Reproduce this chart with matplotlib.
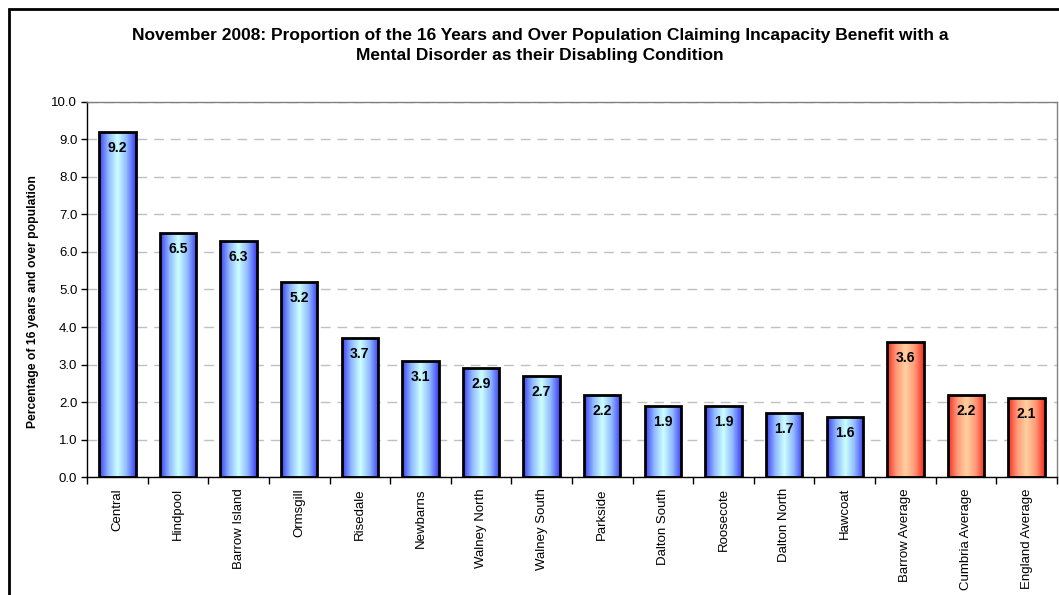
import numpy as np
import matplotlib.pyplot as plt
from matplotlib.colors import LinearSegmentedColormap
from matplotlib.patches import Rectangle

plt.rcParams['font.family'] = ['Liberation Sans', 'DejaVu Sans']

wards = ['Central', 'Hindpool', 'Barrow Island', 'Ormsgill', 'Risedale', 'Newbarns',
         'Walney North', 'Walney South', 'Parkside', 'Dalton South', 'Roosecote',
         'Dalton North', 'Hawcoat', 'Barrow Average', 'Cumbria Average', 'England Average']
rates = [9.2, 6.5, 6.3, 5.2, 3.7, 3.1, 2.9, 2.7, 2.2, 1.9, 1.9, 1.7, 1.6, 3.6, 2.2, 2.1]
is_average = [False] * 13 + [True] * 3

blue_grad = LinearSegmentedColormap.from_list('bl', ['#3c3cf5', '#8fb8ff', '#ccffff', '#8fb8ff', '#3c3cf5'])
red_grad = LinearSegmentedColormap.from_list('rd', ['#f52a1e', '#ff9a78', '#ffd0a0', '#ff9a78', '#f52a1e'])

fig = plt.figure(figsize=(10.59, 5.95), dpi=100)
ax = fig.add_axes([0.0822, 0.1983, 0.9158, 0.6303])

# outer chart frame
fig.patches.append(Rectangle((9 / 1059, -0.1), 1.2, 1.1 - 9 / 595, transform=fig.transFigure,
                             fill=False, edgecolor='black', linewidth=2, zorder=0))

x = np.arange(len(wards))
width = 0.6
bars = ax.bar(x, rates, width=width, color='none', edgecolor='black', linewidth=2, zorder=3)

grad = np.linspace(0, 1, 256).reshape(1, -1)
for bar, val, avg in zip(bars, rates, is_average):
    x0 = bar.get_x()
    im = ax.imshow(grad, cmap=red_grad if avg else blue_grad, aspect='auto',
                   extent=[x0, x0 + width, 0, val], zorder=2, interpolation='bilinear')
    im.set_clip_path(bar)
    ax.text(x0 + width / 2, val - 0.24, f'{val:.1f}', ha='center', va='top',
            fontsize=10, fontweight='bold', zorder=4)

ax.set_xlim(-0.5, len(wards) - 0.5)
ax.set_ylim(0, 10)
ax.set_yticks(np.arange(0, 10.01, 1.0))
ax.set_yticklabels([f'{v:.1f}' for v in np.arange(0, 10.01, 1.0)], fontsize=9.5)
ax.set_xticks(x)
ax.set_xticklabels(wards, rotation=90, fontsize=9.5)
ax.set_xticks(np.arange(-0.5, len(wards), 1.0), minor=True)
ax.tick_params(axis='x', which='major', length=0, pad=8)
ax.tick_params(axis='x', which='minor', length=5, direction='out', width=1)
ax.tick_params(axis='y', length=4, direction='out', width=1, pad=3)

ax.yaxis.grid(True, linestyle=(0, (7, 5)), color='#c0c0c0', linewidth=1, zorder=0)
ax.set_axisbelow(True)
for side in ('top', 'right'):
    ax.spines[side].set_color('#808080')
    ax.spines[side].set_linewidth(1)
ax.spines['left'].set_linewidth(1)
ax.spines['bottom'].set_linewidth(1)

ax.set_ylabel('Percentage of 16 years and over population', fontsize=8.7, fontweight='bold')
ax.yaxis.set_label_coords(-0.050, 0.467)

fig.text(0.51, 0.953, 'November 2008: Proportion of the 16 Years and Over Population Claiming Incapacity Benefit with a\n'
         'Mental Disorder as their Disabling Condition', ha='center', va='top', fontsize=12.5,
         fontweight='bold', linespacing=1.45)

fig.savefig('out.png', dpi=100)
